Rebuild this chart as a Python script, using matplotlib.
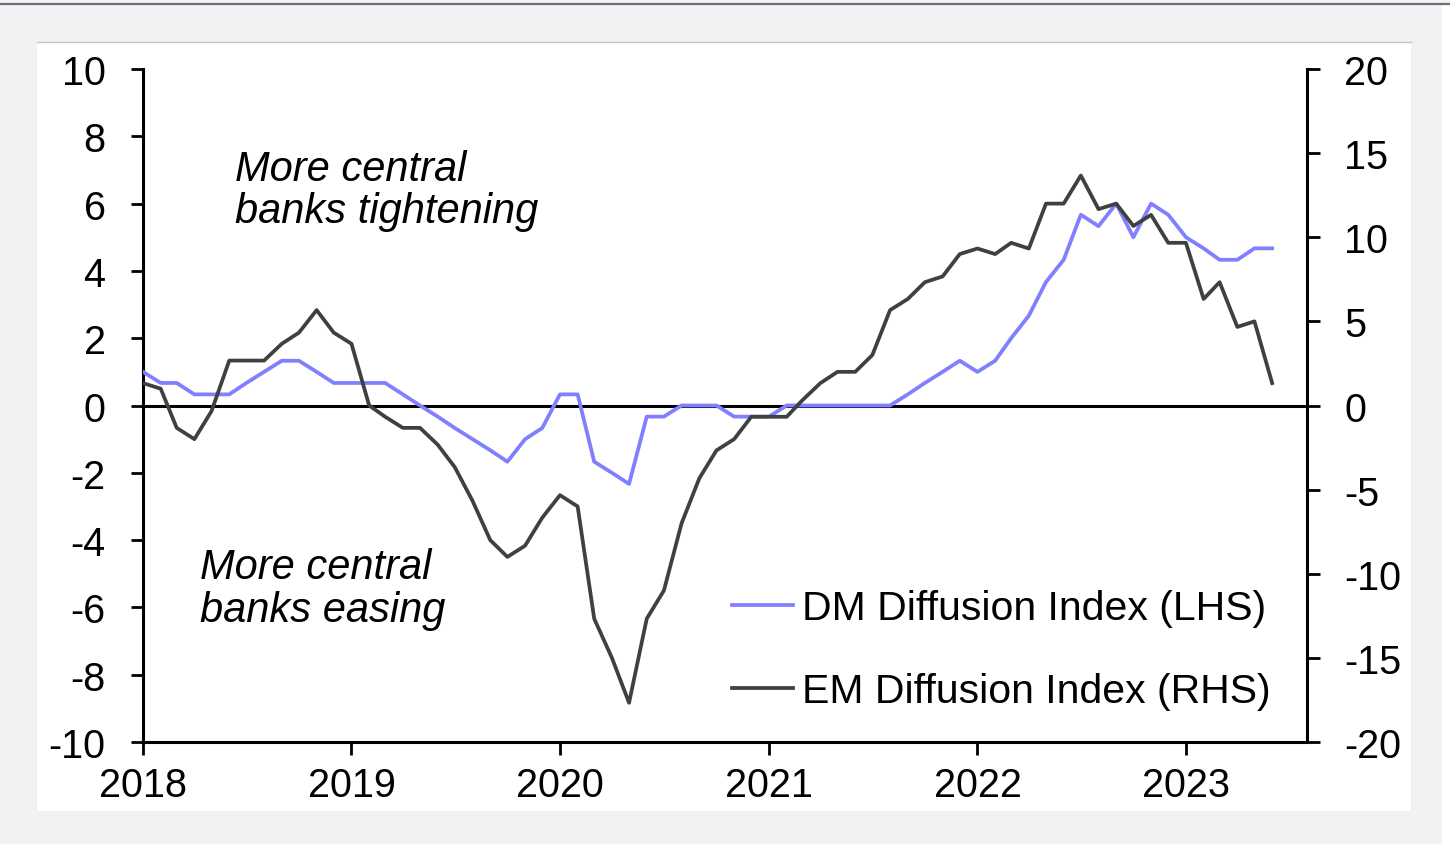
import matplotlib.pyplot as plt
import matplotlib.dates as mdates
from matplotlib.patches import Rectangle
import pandas as pd

plt.rcParams['font.family'] = ['Liberation Sans', 'DejaVu Sans']
plt.rcParams['axes.unicode_minus'] = False

# Monthly observations, Jan 2018 - Jun 2023
dates = pd.date_range('2018-01-01', periods=66, freq='MS')

dm_index = [1.0, 0.67, 0.67, 0.33, 0.33, 0.33, 0.67, 1.0, 1.33, 1.33, 1.0, 0.67,
            0.67, 0.67, 0.67, 0.33, 0.0, -0.33, -0.67, -1.0, -1.33, -1.67, -1.0, -0.67,
            0.33, 0.33, -1.67, -2.0, -2.33, -0.33, -0.33, 0.0, 0.0, 0.0, -0.33, -0.33,
            -0.33, 0.0, 0.0, 0.0, 0.0, 0.0, 0.0, 0.0, 0.33, 0.67, 1.0, 1.33,
            1.0, 1.33, 2.0, 2.67, 3.67, 4.33, 5.67, 5.33, 6.0, 5.0, 6.0, 5.67,
            5.0, 4.67, 4.33, 4.33, 4.67, 4.67]

em_index = [1.33, 1.0, -1.33, -2.0, -0.33, 2.67, 2.67, 2.67, 3.67, 4.33, 5.67, 4.33,
            3.67, 0.0, -0.67, -1.33, -1.33, -2.33, -3.67, -5.67, -8.0, -9.0, -8.33, -6.67,
            -5.33, -6.0, -12.67, -15.0, -17.67, -12.67, -11.0, -7.0, -4.33, -2.67, -2.0, -0.67,
            -0.67, -0.67, 0.33, 1.33, 2.0, 2.0, 3.0, 5.67, 6.33, 7.33, 7.67, 9.0,
            9.33, 9.0, 9.67, 9.33, 12.0, 12.0, 13.67, 11.67, 12.0, 10.67, 11.33, 9.67,
            9.67, 6.33, 7.33, 4.67, 5.0, 1.33]

W, H = 1450, 845
fig = plt.figure(figsize=(W / 100, H / 100), dpi=100, facecolor='#f2f2f4')

# white panel + thin frame lines (behind the axes)
fig.patches.append(Rectangle((37 / W, 1 - 812 / H), (1411 - 37) / W, (812 - 43) / H,
                             transform=fig.transFigure, facecolor='white',
                             edgecolor='none', zorder=-2))
fig.patches.append(Rectangle((1442 / W, 0), 8 / W, 1 - 6 / H,
                             transform=fig.transFigure, facecolor='white',
                             edgecolor='none', zorder=-2))
fig.add_artist(plt.Line2D([37 / W, 1411 / W], [1 - 43 / H, 1 - 43 / H],
                          transform=fig.transFigure, color='#c4c4c8', lw=1, zorder=-1))
fig.add_artist(plt.Line2D([0, 1], [1 - 5 / H, 1 - 5 / H],
                          transform=fig.transFigure, color='#6e6e7a', lw=1.6, zorder=-1))

ax = fig.add_axes([143 / W, 1 - 743 / H, (1307 - 143) / W, (743 - 70) / H])
ax.patch.set_alpha(0)
ax2 = ax.twinx()

ax.axhline(0, color='black', lw=2.2, zorder=1)
l1, = ax.plot(dates, dm_index, color='#7f7fff', lw=2.7, zorder=3,
              label='DM Diffusion Index (LHS)')
l2, = ax2.plot(dates, em_index, color='#404040', lw=2.7, zorder=3,
               label='EM Diffusion Index (RHS)')

ax.set_ylim(-10, 10)
ax.set_yticks(range(-10, 11, 2))
ax2.set_ylim(-20, 20)
ax2.set_yticks(range(-20, 21, 5))
ax.set_xlim(pd.Timestamp('2018-01-01'), pd.Timestamp('2023-08-01'))
ax.xaxis.set_major_locator(mdates.YearLocator())
ax.xaxis.set_major_formatter(mdates.DateFormatter('%Y'))

for a in (ax, ax2):
    a.spines['top'].set_visible(False)
    for s in ('left', 'right', 'bottom'):
        a.spines[s].set_linewidth(2.2)
    a.tick_params(axis='y', direction='out', length=9, width=2, labelsize=28.5, pad=18)
    a.tick_params(axis='x', direction='out', length=9, width=2, labelsize=28.5, pad=8)
ax.spines['right'].set_visible(False)
ax2.spines['left'].set_visible(False)
ax2.spines['bottom'].set_visible(False)

fig.text(235 / W, 1 - 181 / H, 'More central', fontsize=30, style='italic', va='baseline')
fig.text(235 / W, 1 - 223 / H, 'banks tightening', fontsize=30, style='italic', va='baseline')
fig.text(200 / W, 1 - 579 / H, 'More central', fontsize=30, style='italic', va='baseline')
fig.text(200 / W, 1 - 622 / H, 'banks easing', fontsize=30, style='italic', va='baseline')

fig.legend(handles=[l1, l2], loc='upper left', bbox_to_anchor=(732 / W, 1 - 590 / H),
           frameon=False, fontsize=29.5, handlelength=1.5, handletextpad=0.2,
           labelspacing=1.1, borderpad=0, borderaxespad=0)

fig.savefig('out.png', dpi=100, facecolor=fig.get_facecolor())
